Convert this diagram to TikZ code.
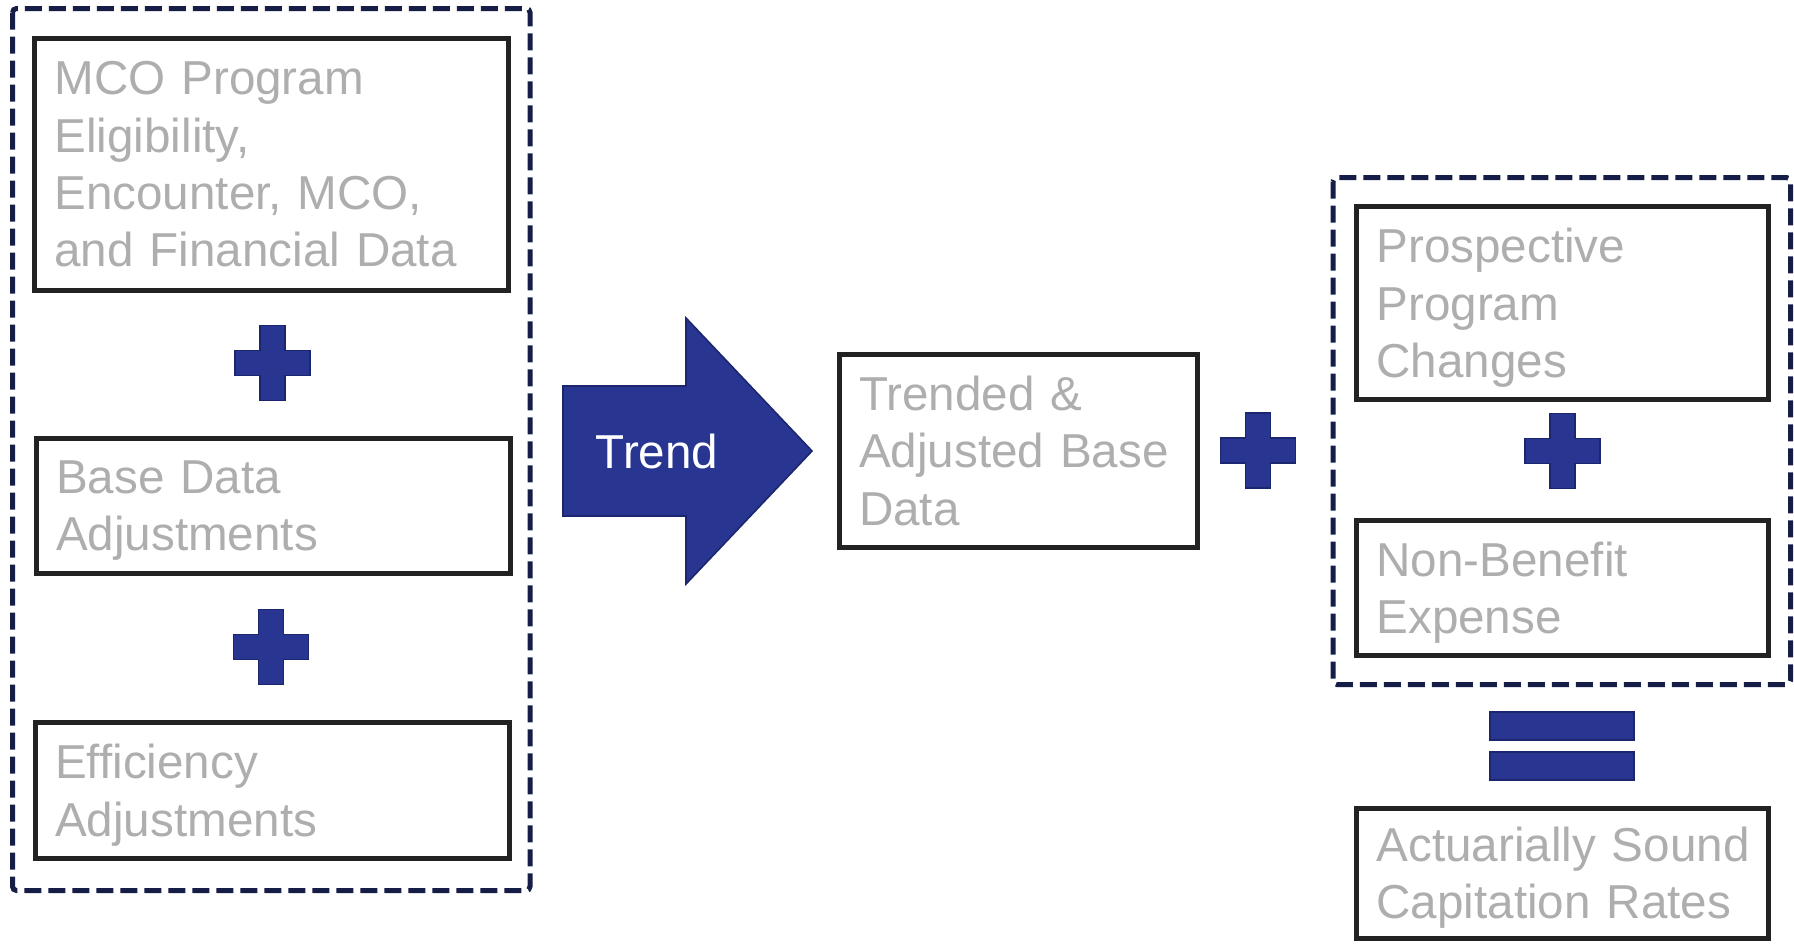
\documentclass[tikz,border=0pt]{standalone}
\usepackage{fontspec}
\setmainfont{Liberation Sans}
\definecolor{ratenavy}{RGB}{22,30,72}
\definecolor{rateblue}{RGB}{40,54,146}
\definecolor{rateedge}{RGB}{28,38,110}
\definecolor{boxline}{RGB}{34,34,34}
\definecolor{txtgray}{RGB}{174,174,174}
\tikzset{%
	databox/.style = {draw=boxline, line width=2.5pt, fill=white, text=txtgray, align=left, inner xsep=10pt, inner ysep=0pt, font=\fontsize{23.8}{28.7}\selectfont},
	group/.style   = {draw=ratenavy, line width=2.5pt, dash pattern=on 8.5pt off 3.5pt, rounded corners=2pt},
	sign/.style    = {fill=rateblue, draw=rateedge, line width=0.8pt},
}
% last line without its descender, so every box centres alike
\newcommand{\lastrow}[1]{\smash{#1}}

\begin{document}
\begin{tikzpicture}[x=0.5pt,y=-0.5pt]
	\useasboundingbox (0,0) rectangle (1794,943);
	% dashed groups
	\draw[group] (12.5,8.5) rectangle (530,890.5);
	\draw[group] (1333,177.5) rectangle (1790.5,684.5);
	
	% base data column
	\node[databox, text width=217pt, minimum width=237pt, minimum height=126.25pt] (mco) at (271.5,164.5) {MCO Program\\Eligibility,\\Encounter, MCO,\\and Financial Data};
	\node[databox, text width=217pt, minimum width=237pt, minimum height=67.4pt] (basedata) at (273,505.9) {Base Data\\\lastrow{Adjustments}};
	\node[databox, text width=217pt, minimum width=237pt, minimum height=67.9pt] (efficiency) at (272.2,790.3) {Efficiency\\\lastrow{Adjustments}};
	\draw[sign] (260,325.5) -- ++(25,0) -- ++(0,25) -- ++(25,0) -- ++(0,25) -- ++(-25,0) -- ++(0,25) -- ++(-25,0) -- ++(0,-25) -- ++(-25,0) -- ++(0,-25) -- ++(25,0) -- cycle;
	\draw[sign] (258.5,609.5) -- ++(25,0) -- ++(0,25) -- ++(25,0) -- ++(0,25) -- ++(-25,0) -- ++(0,25) -- ++(-25,0) -- ++(0,-25) -- ++(-25,0) -- ++(0,-25) -- ++(25,0) -- cycle;
	
	% trend arrow
	\draw[sign] (563,386) -- (686,386) -- (686,318) -- (812,451) -- (686,584) -- (686,516) -- (563,516) -- cycle;
	\node[text=white, font=\fontsize{23.8}{28.7}\selectfont] (trend) at (657,451) {Trend};
	
	\node[databox, text width=159.2pt, minimum width=179.2pt, minimum height=96.7pt] (trended) at (1018.3,450.9) {Trended \&\\Adjusted Base\\Data};
	\draw[sign] (1245.5,413) -- ++(25,0) -- ++(0,25) -- ++(25,0) -- ++(0,25) -- ++(-25,0) -- ++(0,25) -- ++(-25,0) -- ++(0,-25) -- ++(-25,0) -- ++(0,-25) -- ++(25,0) -- cycle;
	
	% right column
	\node[databox, text width=186pt, minimum width=206pt, minimum height=96.3pt] (prospective) at (1562.5,302.9) {Prospective\\Program\\\lastrow{Changes}};
	\node[databox, text width=186pt, minimum width=206pt, minimum height=67.6pt] (nonbenefit) at (1562.5,587.9) {Non-Benefit\\\lastrow{Expense}};
	\draw[sign] (1550,413.5) -- ++(25,0) -- ++(0,25) -- ++(25,0) -- ++(0,25) -- ++(-25,0) -- ++(0,25) -- ++(-25,0) -- ++(0,-25) -- ++(-25,0) -- ++(0,-25) -- ++(25,0) -- cycle;
	\draw[sign] (1490,712) rectangle (1634,740);
	\draw[sign] (1490,752) rectangle (1634,780);
	\node[databox, text width=186pt, minimum width=206pt, minimum height=65pt] (capitation) at (1562.5,873) {Actuarially~Sound\\\lastrow{Capitation Rates}};
\end{tikzpicture}
\end{document}
